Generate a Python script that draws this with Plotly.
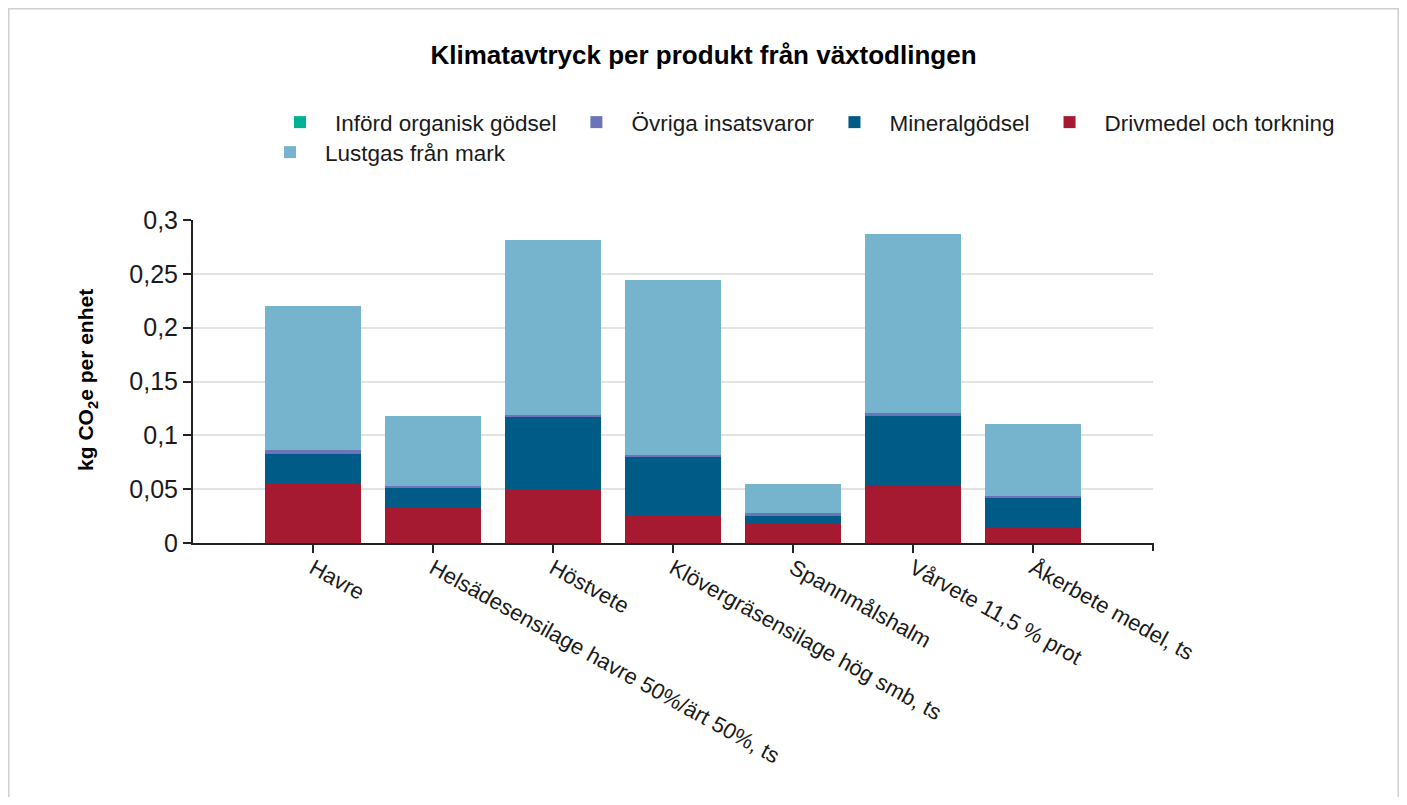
#!/usr/bin/env python3
"""
Stacked bar chart: climate footprint per crop product
"""

import plotly.graph_objs as go

# Categories (x axis)
products = [
    "Havre",
    "Helsädesensilage havre 50%/ärt 50%, ts",
    "Höstvete",
    "Klövergräsensilage hög smb, ts",
    "Spannmålshalm",
    "Vårvete 11,5 % prot",
    "Åkerbete medel, ts",
]

# Series values, kg CO2e per unit
drivmedel = [0.0548, 0.0328, 0.0499, 0.0257, 0.0179, 0.0532, 0.0142]
mineralgodsel = [0.0279, 0.0186, 0.0668, 0.0539, 0.0075, 0.0650, 0.0279]
ovriga = [0.0040, 0.0018, 0.0022, 0.0019, 0.0022, 0.0023, 0.0018]
inford_organisk = [0.0, 0.0, 0.0, 0.0, 0.0, 0.0, 0.0]
lustgas = [0.1333, 0.0648, 0.1625, 0.1628, 0.0272, 0.1665, 0.0669]

FONT = "Liberation Sans, Arial, sans-serif"
TEXT = "#1a1a1a"

# Figure size and plot area in pixels (page adds an 8px body margin)
W, H = 1391, 789
L, T = 185, 212
PW, PH = 960, 323
R, B = W - L - PW, H - T - PH


def px_x(x):
    """figure pixel x -> paper x"""
    return (x - L) / PW


def px_y(y):
    """figure pixel y -> paper y"""
    return 1 - (y - T) / PH


fig = go.Figure()

# Stack order bottom-up; legendrank sets legend order.
# Lustgas goes in a second legend so it sits on its own row.
series = [
    ("Drivmedel och torkning", drivmedel, "#a51931", 4, "legend"),
    ("Mineralgödsel", mineralgodsel, "#005b87", 3, "legend"),
    ("Övriga insatsvaror", ovriga, "#6b73b9", 2, "legend"),
    ("Införd organisk gödsel", inford_organisk, "#00b294", 1, "legend"),
    ("Lustgas från mark", lustgas, "#76b4ce", 5, "legend2"),
]
for name, vals, color, rank, leg in series:
    fig.add_trace(go.Bar(
        x=products,
        y=vals,
        name=name,
        marker=dict(color=color, line=dict(width=0)),
        legendrank=rank,
        legend=leg,
        hovertemplate='%{x}<br>%{y:.3f}<extra>' + name + '</extra>'
    ))

# Light grey frame around the whole chart
fig.add_shape(
    type="rect", xref="paper", yref="paper",
    x0=px_x(0.5), x1=px_x(W - 0.5),
    y0=px_y(H + 20), y1=px_y(0.5),
    line=dict(color="#d0d0d0", width=2), fillcolor="rgba(0,0,0,0)", layer="below"
)
# End tick at the right of the x axis
fig.add_shape(
    type="line", xref="paper", yref="paper",
    x0=1, x1=1, y0=0, y1=-8 / PH,
    line=dict(color="#222222", width=2)
)

# Y axis title with subscript
fig.add_annotation(
    text="<b>kg CO<sub>2</sub>e per enhet</b>",
    xref="paper", yref="paper",
    x=px_x(79), y=0.505,
    xanchor="center", yanchor="middle",
    textangle=-90, showarrow=False,
    font=dict(family=FONT, size=21, color="#000000")
)

legend_style = dict(
    orientation="h",
    font=dict(family=FONT, size=22.5, color=TEXT),
    itemwidth=60,
    traceorder="normal",
    bgcolor="rgba(0,0,0,0)"
)

fig.update_layout(
    title=dict(
        text="<b>Klimatavtryck per produkt från växtodlingen</b>",
        x=0.5, xref="container", xanchor="center",
        y=1 - 47 / H, yref="container", yanchor="middle",
        font=dict(family=FONT, size=26, color="#000000")
    ),
    barmode="stack",
    bargap=0.2,
    separators=", ",
    width=W, height=H,
    margin=dict(l=L, r=R, t=T, b=B, autoexpand=False),
    paper_bgcolor="white",
    plot_bgcolor="white",
    font=dict(family=FONT, size=22, color=TEXT),
    showlegend=True,
    legend=dict(
        x=px_x(1332), xanchor="right",
        y=px_y(93), yanchor="top",
        **legend_style
    ),
    legend2=dict(
        x=px_x(247), xanchor="left",
        y=px_y(123), yanchor="top",
        **legend_style
    ),
    xaxis=dict(
        range=[-1, 7],
        tickangle=29,
        ticks="outside", ticklen=8, tickwidth=2, tickcolor="#222222",
        showline=True, linecolor="#222222", linewidth=2,
        showgrid=False,
        ticklabelstandoff=-6,
        tickfont=dict(family=FONT, size=22, color=TEXT),
        fixedrange=True
    ),
    yaxis=dict(
        range=[0, 0.3],
        tickmode="linear", tick0=0, dtick=0.05,
        ticks="outside", ticklen=8, tickwidth=2, tickcolor="#222222",
        showline=True, linecolor="#222222", linewidth=2,
        showgrid=True, gridcolor="#e3e3e3", gridwidth=2,
        zeroline=False,
        tickfont=dict(family=FONT, size=25, color=TEXT),
        fixedrange=True
    ),
)

fig.write_html("out.html")
